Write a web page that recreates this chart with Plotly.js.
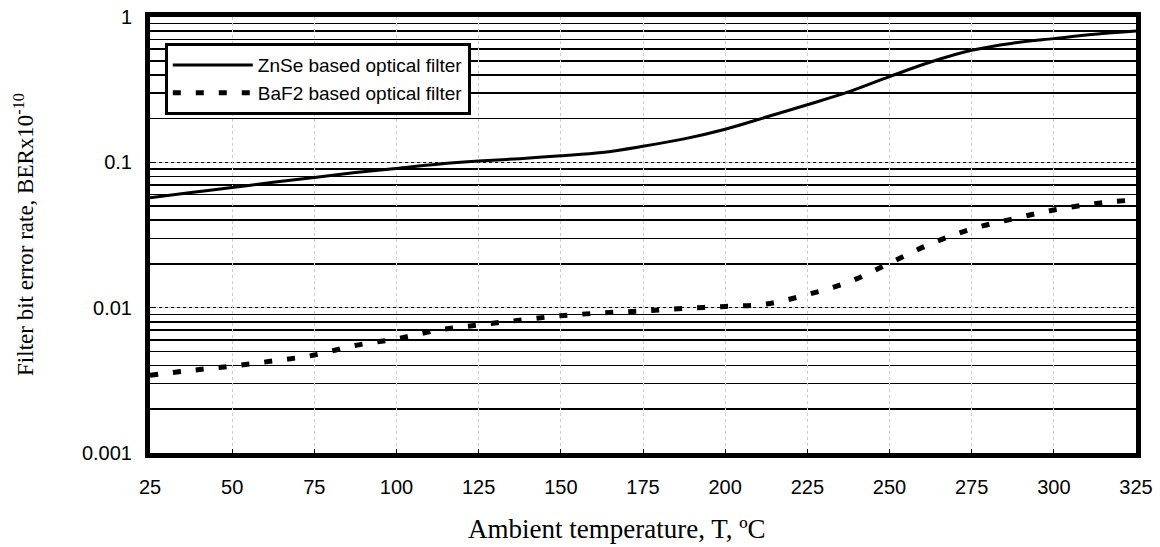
<!DOCTYPE html>
<html>
<head>
<meta charset="utf-8">
<script src="https://cdn.plot.ly/plotly-3.0.1.min.js"></script>
<style>html,body{margin:0;padding:0;background:#fff;}#chart{width:1160px;height:547px;}</style>
</head>
<body>
<div id="chart"></div>
<script>
const temperature = [25, 37.5, 50, 62.5, 75, 87.5, 100, 112.5, 125, 137.5, 150, 162.5, 175, 187.5, 200, 212.5, 225, 237.5, 250, 262.5, 275, 287.5, 300, 312.5, 325];
const znseBER = [0.057, 0.062, 0.067, 0.073, 0.0787, 0.085, 0.0908, 0.097, 0.102, 0.106, 0.111, 0.117, 0.129, 0.145, 0.169, 0.205, 0.249, 0.305, 0.389, 0.49, 0.59, 0.66, 0.71, 0.76, 0.8];
const baf2BER = [0.00343, 0.0037, 0.00396, 0.0043, 0.00472, 0.0055, 0.0061, 0.007, 0.0076, 0.0082, 0.0088, 0.0092, 0.0095, 0.0099, 0.0102, 0.0106, 0.0123, 0.015, 0.0202, 0.0275, 0.0348, 0.0408, 0.047, 0.052, 0.0553];
const xTicks = [25, 50, 75, 100, 125, 150, 175, 200, 225, 250, 275, 300, 325];
const yTickVals = [0.001, 0.01, 0.1, 1];
const yTickText = ['0.001', '0.01', '0.1', '1'];
const xTitle = 'Ambient temperature, T, ºC';
const yTitle = 'Filter bit error rate, BERx10<sup>-10</sup>';

const traces = [
  {x: temperature, y: znseBER, mode: 'lines', name: 'ZnSe based optical filter',
   line: {color: '#000', width: 3, shape: 'spline'}},
  {x: temperature, y: baf2BER, mode: 'lines', name: 'BaF2 based optical filter',
   line: {color: '#000', width: 5, dash: '8px,15px', shape: 'spline'}}
];

const axisFont = {family: 'Liberation Sans, Arial', size: 20, color: '#000'};
const serif = 'Liberation Serif, Times New Roman';

const layout = {
  width: 1160, height: 547,
  margin: {l: 150, r: 24, t: 17, b: 94},
  paper_bgcolor: '#fff', plot_bgcolor: '#fff',
  showlegend: true,
  legend: {x: 0.015, y: 0.94, xanchor: 'left', yanchor: 'top', bgcolor: '#fff',
    bordercolor: '#000', borderwidth: 3, itemwidth: 80,
    font: {family: 'Liberation Sans, Arial', size: 19, color: '#000'},
    tracegroupgap: 0},
  xaxis: {
    range: [25, 325], tickvals: xTicks, ticktext: xTicks.map(String),
    showline: true, linecolor: '#000', linewidth: 5, mirror: true,
    showgrid: true, gridcolor: '#cccccc', griddash: 'dot', gridwidth: 1,
    ticks: 'inside', ticklen: 4, tickcolor: '#000', zeroline: false,
    ticklabelstandoff: 12,
    tickfont: axisFont
  },
  yaxis: {
    type: 'log', range: [-3, 0], tickvals: yTickVals, ticktext: yTickText,
    showline: true, linecolor: '#000', linewidth: 5, mirror: true,
    showgrid: true, gridcolor: '#cccccc', griddash: 'dot', gridwidth: 1,
    ticks: 'inside', ticklen: 4, tickcolor: '#000', zeroline: false,
    ticklabelstandoff: 9,
    tickfont: axisFont,
    minor: {showgrid: true, gridcolor: '#000', gridwidth: 1.6, griddash: 'solid', dtick: 'D1', ticks: ''}
  },
  annotations: [
    {text: xTitle, xref: 'paper', yref: 'paper', x: 0.474, y: -0.174, xanchor: 'center', yanchor: 'middle',
     showarrow: false, font: {family: serif, size: 27, color: '#000'}},
    {text: yTitle, xref: 'paper', yref: 'paper', x: -0.128, y: 0.502, xanchor: 'center', yanchor: 'middle',
     textangle: -90, showarrow: false, font: {family: serif, size: 23, color: '#000'}}
  ]
};

Plotly.newPlot('chart', traces, layout, {displayModeBar: false, staticPlot: true});
</script>
</body>
</html>
